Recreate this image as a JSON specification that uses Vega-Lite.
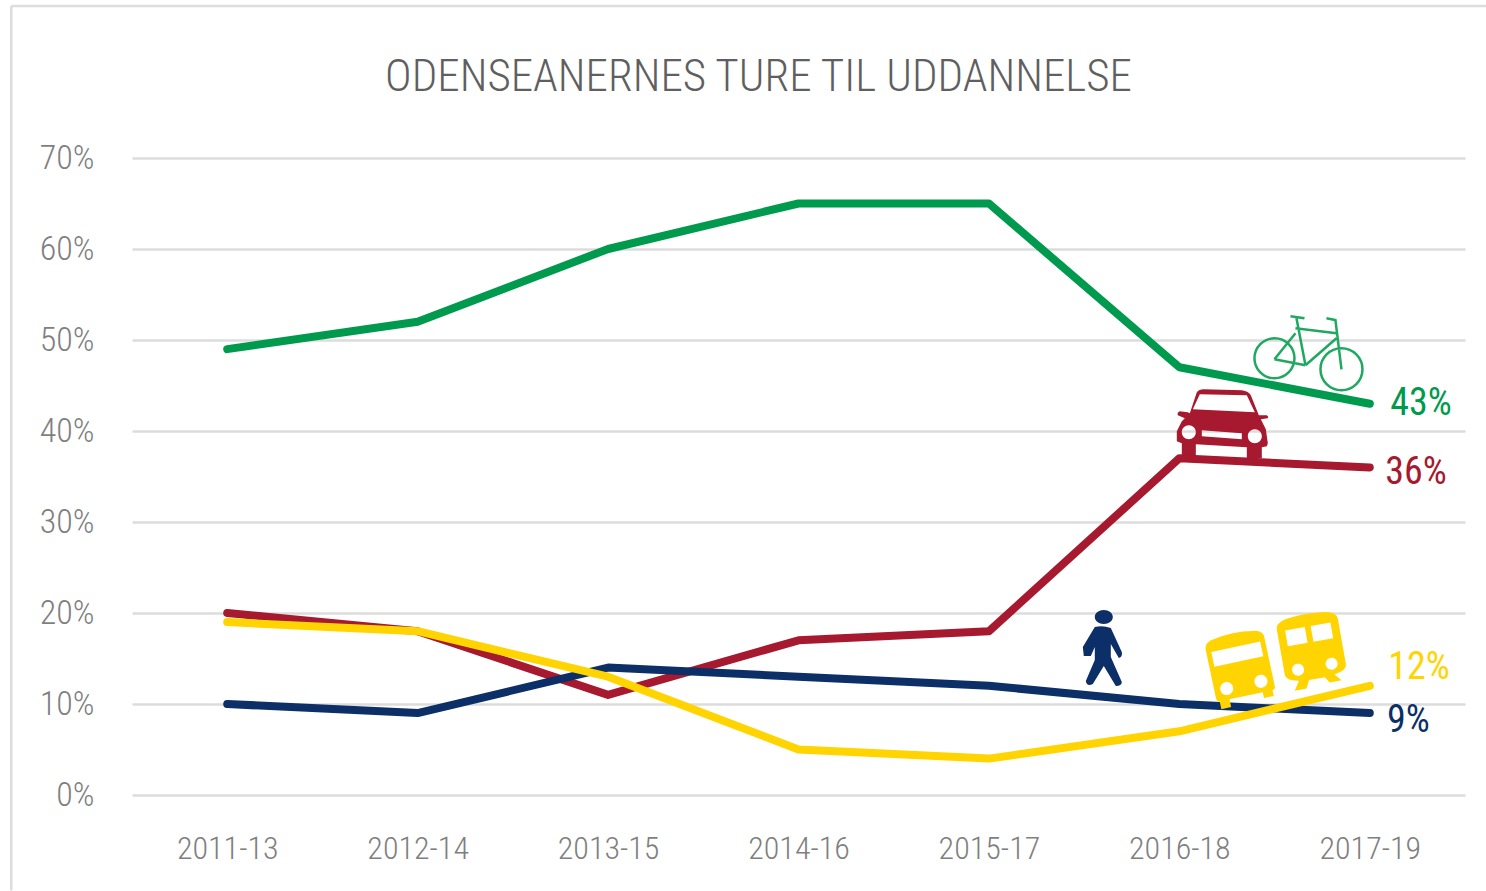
{
"$schema":"https://vega.github.io/schema/vega-lite/v6.json",
"width":1333,"height":637,
"autosize":{"type":"none"},
"padding":{"left":132,"top":158,"right":21,"bottom":96},
"background":"#ffffff",
"title":{"text":"ODENSEANERNES TURE TIL UDDANNELSE","anchor":"middle","dx":-40,"dy":131,"offset":0,"baseline":"alphabetic","fontSize":45,"font":"Roboto Condensed","fontWeight":300,"color":"#5f5f5f"},
"config":{"view":{"stroke":null}},
"datasets":{
"trips":[
{"period":"2011-13","mode":"Cykel","share":49},{"period":"2012-14","mode":"Cykel","share":52},{"period":"2013-15","mode":"Cykel","share":60},{"period":"2014-16","mode":"Cykel","share":65},{"period":"2015-17","mode":"Cykel","share":65},{"period":"2016-18","mode":"Cykel","share":47},{"period":"2017-19","mode":"Cykel","share":43},
{"period":"2011-13","mode":"Bil","share":20},{"period":"2012-14","mode":"Bil","share":18},{"period":"2013-15","mode":"Bil","share":11},{"period":"2014-16","mode":"Bil","share":17},{"period":"2015-17","mode":"Bil","share":18},{"period":"2016-18","mode":"Bil","share":37},{"period":"2017-19","mode":"Bil","share":36},
{"period":"2011-13","mode":"Gang","share":10},{"period":"2012-14","mode":"Gang","share":9},{"period":"2013-15","mode":"Gang","share":14},{"period":"2014-16","mode":"Gang","share":13},{"period":"2015-17","mode":"Gang","share":12},{"period":"2016-18","mode":"Gang","share":10},{"period":"2017-19","mode":"Gang","share":9},
{"period":"2011-13","mode":"Kollektiv","share":19},{"period":"2012-14","mode":"Kollektiv","share":18},{"period":"2013-15","mode":"Kollektiv","share":13},{"period":"2014-16","mode":"Kollektiv","share":5},{"period":"2015-17","mode":"Kollektiv","share":4},{"period":"2016-18","mode":"Kollektiv","share":7},{"period":"2017-19","mode":"Kollektiv","share":12}
],
"labels":[
{"pos":6.107,"val":43.0,"label":"43%","mode":"Cykel"},
{"pos":6.081,"val":35.4,"label":"36%","mode":"Bil"},
{"pos":6.097,"val":14.0,"label":"12%","mode":"Kollektiv"},
{"pos":6.09,"val":8.1,"label":"9%","mode":"Gang"}
],
"icons":[
{"icon":"bike","pos":5.678,"val":48.54},
{"icon":"car","pos":5.223,"val":40.85},
{"icon":"walker","pos":4.598,"val":15.93},
{"icon":"bus","pos":5.32,"val":13.92},
{"icon":"train","pos":5.696,"val":15.93}
],
"frame":[
{"a":-1.134,"a2":6.61,"b":86.7,"b2":86.7},
{"a":-1.134,"a2":-1.134,"b":86.7,"b2":-10.5}
]
},
"resolve":{"scale":{"x":"independent"}},
"layer":[
{"data":{"name":"frame"},"mark":{"type":"rule","color":"#dddddd","strokeWidth":2.5},
"encoding":{"x":{"field":"a","type":"quantitative","axis":null,"scale":{"domain":[-0.5,6.5],"nice":false,"zero":false}},"x2":{"field":"a2"},"y":{"field":"b","type":"quantitative"},"y2":{"field":"b2"}}},
{"data":{"name":"trips"},"mark":{"type":"line","strokeWidth":8,"strokeCap":"round","strokeJoin":"round"},
"encoding":{
"x":{"field":"period","type":"ordinal","title":null,"scale":{"type":"point","padding":0.5},
"axis":{"domain":false,"ticks":false,"labelAngle":0,"labelFont":"Roboto Condensed","labelFontWeight":300,"labelFontSize":32,"labelColor":"#7f7f7f","labelPadding":38,"labelFlush":false,"grid":false}},
"y":{"field":"share","type":"quantitative","title":null,"scale":{"domain":[0,70],"nice":false},
"axis":{"values":[0,10,20,30,40,50,60,70],"labelExpr":"datum.value+'%'","domain":false,"ticks":false,"grid":true,"gridColor":"#dcdcdc","gridWidth":2.5,"labelFont":"Roboto Condensed","labelFontWeight":300,"labelFontSize":34,"labelColor":"#7f7f7f","labelPadding":38}},
"color":{"field":"mode","type":"nominal","legend":null,"scale":{"domain":["Cykel","Bil","Gang","Kollektiv"],"range":["#009a4e","#a6192e","#0b2f66","#ffd400"]}}}},
{"data":{"name":"labels"},"mark":{"type":"text","align":"left","baseline":"middle","font":"Roboto Condensed","fontSize":38},
"encoding":{"x":{"field":"pos","type":"quantitative","axis":null,"scale":{"domain":[-0.5,6.5],"nice":false,"zero":false}},"y":{"field":"val","type":"quantitative"},"text":{"field":"label"},
"color":{"field":"mode","type":"nominal","legend":null,"scale":{"domain":["Cykel","Bil","Gang","Kollektiv"],"range":["#1b7a50","#a6304a","#1f3f70","#ffd83a"]}}}},
{"data":{"name":"icons"},"transform":[{"filter":"datum.icon==='bike'"}],
"mark":{"type":"point","size":4,"filled":false,"opacity":1,"stroke":"#1fa860","strokeWidth":2.5,"shape":"M-54,5a20,20 0 1,0 40,0a20,20 0 1,0 -40,0M12,16a21,21 0 1,0 42,0a21,21 0 1,0 -42,0M-12,-35L-3,12M-13,-25L28,-20M28,-15L-3,12M-3,12L-34,6M-13,-20L-34,6M27,-33L33,16M-18,-37L-4,-35M18,-35L28,-33"},
"encoding":{"x":{"field":"pos","type":"quantitative","axis":null,"scale":{"domain":[-0.5,6.5],"nice":false,"zero":false}},"y":{"field":"val","type":"quantitative"}}},
{"data":{"name":"icons"},"transform":[{"filter":"datum.icon==='car'"}],
"mark":{"type":"point","size":4,"filled":true,"opacity":1,"color":"#a6192e","shape":"M-32,-10L-25,-31Q-23,-34 -18,-34L20,-33Q27,-32 29,-28L37,-8L45,-8Q47,-7 46,-5L39,-4L44,6L46,20L45,23L40,24L40,35L25,35L25,24L-26,21L-26,32L-40,32L-40,20L-45,18L-45,8L-40,-2L-37,-5L-44,-8Q-45,-11 -42,-12L-34,-11ZM-22,-29L-29,-14L33,-11L25,-28ZM-40,9a7,7 0 1,0 14,0a7,7 0 1,0 -14,0ZM26,13a7,7 0 1,0 14,0a7,7 0 1,0 -14,0ZM-20,7L-20,13L20,16L20,10Z"},
"encoding":{"x":{"field":"pos","type":"quantitative","axis":null,"scale":{"domain":[-0.5,6.5],"nice":false,"zero":false}},"y":{"field":"val","type":"quantitative"}}},
{"data":{"name":"icons"},"transform":[{"filter":"datum.icon==='walker'"}],
"mark":{"type":"point","size":4,"filled":true,"opacity":1,"color":"#0b2f66","shape":"M-8,-23Q0,-25 8,-22L19,2Q20,7 16,8L8,-6L8,7L19,32Q19,36 13,36L1,16L-10,34Q-16,37 -17,31L-8,10L-8,-3L-12,6L-19,6L-20,-3ZM-8,-33a9,7 0 1,0 18,0a9,7 0 1,0 -18,0Z"},
"encoding":{"x":{"field":"pos","type":"quantitative","axis":null,"scale":{"domain":[-0.5,6.5],"nice":false,"zero":false}},"y":{"field":"val","type":"quantitative"}}},
{"data":{"name":"icons"},"transform":[{"filter":"datum.icon==='bus'"}],
"mark":{"type":"point","size":4,"filled":true,"opacity":1,"angle":-12,"color":"#ffd400","shape":"M-30,-25Q-30,-33 -20,-34Q0,-38 20,-34Q30,-33 30,-25L30,25Q30,28 27,28L27,34L17,34L17,28L-17,28L-17,36L-27,36L-27,28Q-30,28 -30,25ZM-25,-22L-25,-7L25,-7L25,-22ZM-24,17a6.5,6.5 0 1,0 13,0a6.5,6.5 0 1,0 -13,0ZM11,17a6.5,6.5 0 1,0 13,0a6.5,6.5 0 1,0 -13,0Z"},
"encoding":{"x":{"field":"pos","type":"quantitative","axis":null,"scale":{"domain":[-0.5,6.5],"nice":false,"zero":false}},"y":{"field":"val","type":"quantitative"}}},
{"data":{"name":"icons"},"transform":[{"filter":"datum.icon==='train'"}],
"mark":{"type":"point","size":4,"filled":true,"opacity":1,"angle":-10,"color":"#ffd400","shape":"M-31,-26Q-31,-33 -20,-35Q0,-38 20,-35Q31,-33 31,-26L31,20Q31,26 18,28L24,35L12,35L8,29L-8,29L-12,37L-24,37L-18,28Q-31,26 -31,20ZM-23,-24L-23,-8L-3,-8L-3,-24ZM3,-24L3,-8L23,-8L23,-24ZM-23,17a6,6 0 1,0 12,0a6,6 0 1,0 -12,0ZM11,17a6,6 0 1,0 12,0a6,6 0 1,0 -12,0Z"},
"encoding":{"x":{"field":"pos","type":"quantitative","axis":null,"scale":{"domain":[-0.5,6.5],"nice":false,"zero":false}},"y":{"field":"val","type":"quantitative"}}}
]
}
